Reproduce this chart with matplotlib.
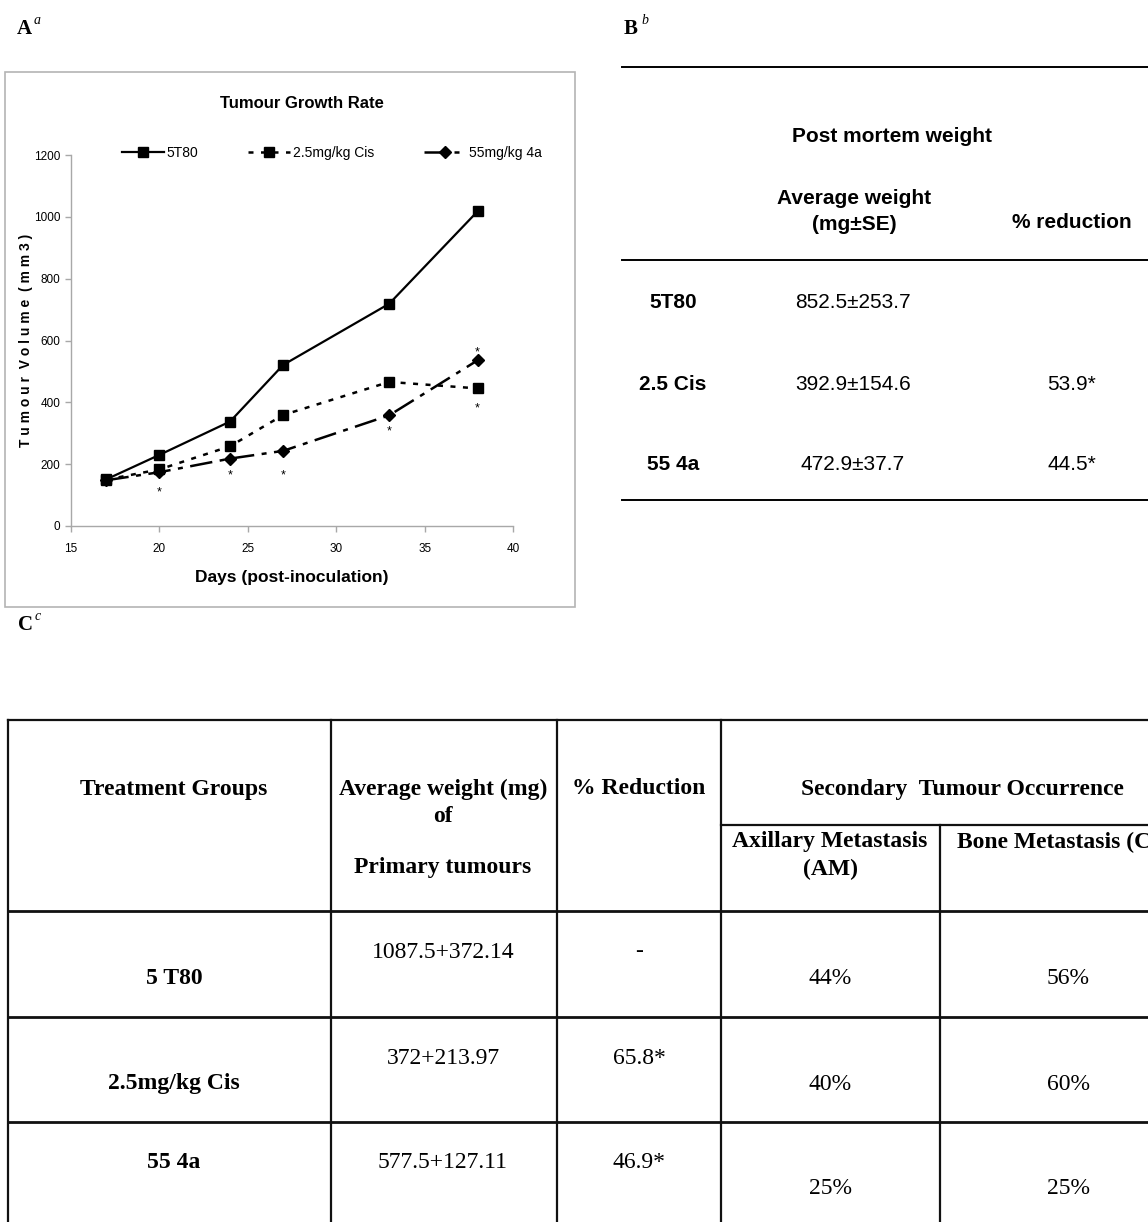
import numpy as np
import matplotlib
matplotlib.use("Agg")
import matplotlib.pyplot as plt
from matplotlib.patches import Rectangle

# ---- data: tumour growth (panel A) ----
days = [17, 20, 24, 27, 33, 38]
vol_5t80 = [151, 230, 338, 521, 719, 1018]
vol_cis = [150, 183, 258, 359, 466, 445]
vol_4a = [148, 174, 218, 243, 358, 536]
series_names = ["5T80", "2.5mg/kg Cis", "55mg/kg 4a"]

# significance stars (day, volume position)
star_days = [20, 24, 27, 33, 38, 38]
star_vals = [108, 163, 163, 306, 380, 562]

# ---- data: post mortem weight (panel B) ----
b_groups = ["5T80", "2.5 Cis", "55 4a"]
b_weight = ["852.5\u00b1253.7", "392.9\u00b1154.6", "472.9\u00b137.7"]
b_reduction = ["", "53.9*", "44.5*"]

# ---- data: primary tumours / metastasis (panel C) ----
c_groups = ["5 T80", "2.5mg/kg Cis", "55 4a"]
c_weight = ["1087.5+372.14", "372+213.97", "577.5+127.11"]
c_reduction = ["-", "65.8*", "46.9*"]
c_axillary = ["44%", "40%", "25%"]
c_bone = ["56%", "60%", "25%"]

W, H = 1148, 1222
fig = plt.figure(figsize=(W / 100, H / 100), dpi=100)
fig.patch.set_facecolor("white")

# overlay in pixel units for labels, tables and frames
ov = fig.add_axes([0, 0, 1, 1])
ov.set_xlim(0, W)
ov.set_ylim(H, 0)
ov.axis("off")

narrow = ["Liberation Sans Narrow", "Liberation Sans", "DejaVu Sans"]
sans = ["Liberation Sans", "DejaVu Sans"]
serif = ["Liberation Serif", "DejaVu Serif"]

# panel letters
for lx, ly, big, small in [(17, 29, "A", "a"), (624, 29, "B", "b"), (18, 625, "C", "c")]:
    ov.text(lx, ly, big, family=serif, weight="bold", fontsize=15, va="center", ha="left")
    ov.text(lx + 17, ly - 9, small, family=serif, style="italic", fontsize=10, va="center", ha="left")

# ---------------- panel A ----------------
ov.add_patch(Rectangle((5, 72), 570, 535, fill=False, ec="#b4b4b4", lw=1.2))
ov.text(302, 103, "Tumour Growth Rate", family=narrow, weight="bold", fontsize=12,
        ha="center", va="center")

x0, x1, y0, y1 = 71, 513, 526, 155
ax = fig.add_axes([x0 / W, 1 - y0 / H, (x1 - x0) / W, (y0 - y1) / H])
ax.set_xlim(15, 40)
ax.set_ylim(0, 1200)
ax.patch.set_alpha(0)

ax.plot(days, vol_5t80, color="black", lw=1.6, ls="-", marker="s", ms=7.5, label=series_names[0])
ax.plot(days, vol_cis, color="black", lw=1.8, ls=(0, (2, 3)), marker="s", ms=7.5, label=series_names[1])
ax.plot(days, vol_4a, color="black", lw=1.8, ls=(0, (9, 3, 2, 3)), marker="D", ms=6, label=series_names[2])

for d, v in zip(star_days, star_vals):
    ax.text(d, v, "*", ha="center", va="center", fontsize=9, family=sans)

for s in ["top", "right"]:
    ax.spines[s].set_visible(False)
for s in ["left", "bottom"]:
    ax.spines[s].set_color("#a8a8a8")
    ax.spines[s].set_linewidth(1.0)
ax.set_xticks([15, 20, 25, 30, 35, 40])
ax.set_yticks([0, 200, 400, 600, 800, 1000, 1200])
ax.tick_params(colors="#a8a8a8", labelcolor="black", length=4, width=1.0, labelsize=8.5)
ax.tick_params(axis="x", pad=8)
for lab in ax.get_xticklabels() + ax.get_yticklabels():
    lab.set_family(narrow)
ax.set_xlabel("Days (post-inoculation)", family=narrow, weight="bold", fontsize=12.5, labelpad=11)
ax.set_ylabel("T u m o u r  V o l u m e  ( m m 3 )", family=narrow, weight="bold",
              fontsize=10, labelpad=1)

leg = ax.legend(loc="center", bbox_to_anchor=(0.59, 1.005), ncol=3, frameon=False,
                prop={"family": narrow, "size": 10}, handlelength=3.0, handletextpad=0.2,
                columnspacing=3.6, borderaxespad=0)

# ---------------- panel B ----------------
bl, br = 622, W
for yy in [67, 260, 500]:
    ov.plot([bl, br], [yy, yy], color="black", lw=1.4)
bh = dict(family=sans, weight="bold", fontsize=15, ha="center", va="center")
ov.text(892, 136, "Post mortem weight", **bh)
ov.text(854, 199, "Average weight", **bh)
ov.text(854, 225, "(mg\u00b1SE)", **bh)
ov.text(1072, 223, "% reduction", **bh)
for i, yy in enumerate([303, 384, 464]):
    ov.text(673, yy, b_groups[i], **bh)
    ov.text(853, yy, b_weight[i], family=sans, fontsize=15, ha="center", va="center")
    ov.text(1072, yy, b_reduction[i], family=sans, fontsize=15, ha="center", va="center")

# ---------------- panel C ----------------
tk = dict(color="#111111", lw=1.6)
ov.plot([8, W], [720, 720], **tk)
for xx in [8, 331, 557, 721]:
    ov.plot([xx, xx], [720, H], **tk)
ov.plot([940, 940], [825, H], **tk)
ov.plot([721, W], [825, 825], **tk)
for yy in [911, 1017, 1122]:
    ov.plot([8, W], [yy, yy], color="#111111", lw=2.0)

hd = dict(family=serif, weight="bold", fontsize=17, ha="center", va="center")
ov.text(174, 789, "Treatment Groups", **hd)
ov.text(443, 789, "Average weight (mg)", **hd)
ov.text(443, 816, "of", **hd)
ov.text(443, 868, "Primary tumours", **hd)
ov.text(639, 789, "% Reduction", **hd)
ov.text(962, 789, "Secondary  Tumour Occurrence", **hd)
ov.text(830, 842, "Axillary Metastasis", **hd)
ov.text(830, 869, "(AM)", **hd)
ov.text(957, 842, "Bone Metastasis (CM)", family=serif, weight="bold", fontsize=17,
        ha="left", va="center", clip_on=True)

row_top = [911, 1017, 1122]
for i, rt in enumerate(row_top):
    lab_y = rt + 67 if i < 2 else rt + 41
    ov.text(174, lab_y, c_groups[i], **hd)
    ov.text(443, rt + 41, c_weight[i], family=serif, fontsize=17, ha="center", va="center")
    ov.text(639, rt + 41, c_reduction[i], family=serif, fontsize=17, ha="center", va="center")
    ov.text(830, rt + 67, c_axillary[i], family=serif, fontsize=17, ha="center", va="center")
    ov.text(1068, rt + 67, c_bone[i], family=serif, fontsize=17, ha="center", va="center")

fig.savefig("out.png", dpi=100)
